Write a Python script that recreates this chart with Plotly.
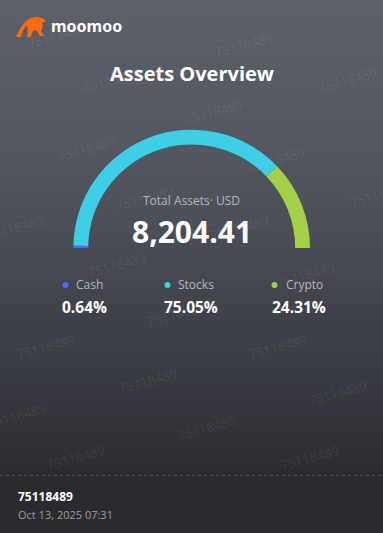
import numpy as np
import plotly.graph_objects as go

# ---------------- data ----------------
categories = ["Cash", "Stocks", "Crypto"]
percents = [0.64, 75.05, 24.31]
total_assets = 8204.41
currency = "USD"
account_id = "75118489"
timestamp = "Oct 13, 2025 07:31"
title_text = "Assets Overview"

# ---------------- style ----------------
W, H = 383, 533
slice_colors = ["#4a6cf0", "#3ecfe6", "#a2d148"]
label_gray = "#b3b6bc"
FONT = "Open Sans"

cx, cy = 191.7, 248.0      # gauge centre (px)
r_out, r_in = 118.3, 103.5

fig = go.Figure()

# background gradient (heatmap in pixel-space axes)
ys = np.arange(0, H + 1)
fig.add_trace(go.Heatmap(
    x=[0, W], y=ys, z=[[v, v] for v in ys],
    zmin=0, zmax=H,
    colorscale=[[0.0, "#5c6068"], [0.28, "#53575f"], [0.45, "#4a4d55"],
                [0.58, "#40434a"], [0.65, "#3c3e45"], [0.86, "#2e2f35"],
                [0.885, "#2a2b30"], [1.0, "#2a2b30"]],
    showscale=False, hoverinfo="skip"))

# legend dots
col_x = [84, 191, 299]
label_w = [26, 36, 38]
dot_x = [cx_ - (lw + 11) / 2 for cx_, lw in zip(col_x, label_w)]
fig.add_trace(go.Scatter(
    x=dot_x, y=[285] * 3, mode="markers",
    marker=dict(size=6, color=slice_colors, line=dict(width=0)),
    hoverinfo="skip", showlegend=False))

# gauge (half donut)
fig.add_trace(go.Pie(
    values=percents + [sum(percents)],
    labels=categories + ["_hidden"],
    marker=dict(colors=slice_colors + ["rgba(0,0,0,0)"], line=dict(width=0)),
    hole=r_in / r_out, sort=False, direction="clockwise", rotation=270,
    textinfo="none", hoverinfo="skip", showlegend=False,
    domain=dict(x=[(cx - r_out) / W, (cx + r_out) / W],
                y=[1 - (cy + r_out) / H, 1 - (cy - r_out) / H])))

ann = []
# watermarks
wm_pos = [(56, 36), (243, 45), (111, 80), (347, 80), (-18, 112), (213, 112),
          (86, 149), (275, 160), (406, 128), (144, 198), (378, 195), (14, 228),
          (239, 228), (116, 265), (305, 275), (-14, 295), (175, 314), (408, 313),
          (45, 347), (277, 347), (147, 381), (337, 393), (16, 416), (206, 428),
          (75, 458), (309, 458)]
for (x, y) in wm_pos:
    ann.append(dict(x=x, y=y, xref="x", yref="y", text=account_id, showarrow=False,
                    textangle=-15, font=dict(family=FONT, size=13,
                                             color="rgba(255,255,255,0.08)")))

# logo text
ann.append(dict(x=49, y=26, xref="x", yref="y", xanchor="left", text="<b>moomoo</b>",
                showarrow=False, font=dict(family="Noto Sans", size=16, color="white")))
# title
ann.append(dict(x=191.5, y=73, xref="x", yref="y", text="<b>" + title_text + "</b>",
                showarrow=False, font=dict(family=FONT, size=20, color="white")))
# total
ann.append(dict(x=191.5, y=200, xref="x", yref="y", text="Total Assets· " + currency,
                showarrow=False, font=dict(family=FONT, size=12, color=label_gray)))
ann.append(dict(x=191.5, y=231, xref="x", yref="y", text="<b>" + f"{total_assets:,.2f}" + "</b>",
                showarrow=False, font=dict(family=FONT, size=30, color="white")))
# columns
for cx_, lw, cat, p in zip(col_x, label_w, categories, percents):
    ann.append(dict(x=cx_ + 5, y=284.5, xref="x", yref="y", text=cat, showarrow=False,
                    font=dict(family=FONT, size=12, color=label_gray)))
    ann.append(dict(x=cx_, y=307, xref="x", yref="y", text=f"<b>{p:.2f}%</b>",
                    showarrow=False, font=dict(family=FONT, size=15.5, color="white")))
# footer
ann.append(dict(x=16, y=496.5, xref="x", yref="y", xanchor="left", text="<b>" + account_id + "</b>",
                showarrow=False, font=dict(family=FONT, size=12, color="white")))
ann.append(dict(x=16, y=514, xref="x", yref="y", xanchor="left", text=timestamp,
                showarrow=False, font=dict(family=FONT, size=11, color="#9a9ca2")))

shapes = [
    dict(type="line", xref="x", yref="y", x0=0, x1=W, y0=475.5, y1=475.5,
         line=dict(color="#55575d", width=1, dash="3px,3px")),
    # logo bull (approximate)
    dict(type="path", xref="x", yref="y", fillcolor="#ff6a13", line=dict(width=0),
         path="M16,37 C20,28 24,21 31,18 C35,16 40,17 44,19 L46,22 L42,22 "
              "C43,25 43,28 41,31 L44,36 L40,36 L37,31 C35,29 33,30 32,33 "
              "L31,37 L27,37 C28,32 28,28 27,25 C24,28 22,32 21,37 Z"),
]

fig.update_layout(
    width=W, height=H, margin=dict(l=0, r=0, t=0, b=0),
    paper_bgcolor="#2a2b30", plot_bgcolor="#2a2b30",
    xaxis=dict(range=[0, W], visible=False, fixedrange=True),
    yaxis=dict(range=[H, 0], visible=False, fixedrange=True),
    annotations=ann, shapes=shapes, showlegend=False)

fig.write_html("out.html", config={"displayModeBar": False})
